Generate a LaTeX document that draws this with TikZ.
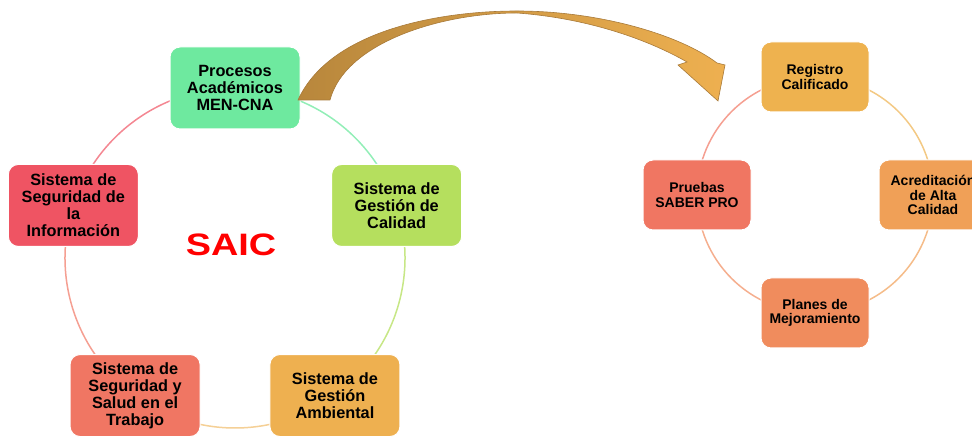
\documentclass[tikz,border=0pt]{standalone}
\usepackage{fontspec}
\setmainfont{Liberation Sans}
\usetikzlibrary{backgrounds}

\definecolor{cProc}{HTML}{6EE99F}
\definecolor{cCal}{HTML}{B5DF5E}
\definecolor{cAmb}{HTML}{EEB050}
\definecolor{cSal}{HTML}{F07663}
\definecolor{cInf}{HTML}{EF5463}
\definecolor{cReg}{HTML}{EEB24F}
\definecolor{cAcr}{HTML}{F0A057}
\definecolor{cPla}{HTML}{F08C5D}
\definecolor{cPru}{HTML}{F07662}
\definecolor{arrDark}{HTML}{B8873C}
\definecolor{arrLight}{HTML}{EEB050}
\definecolor{arrLine}{HTML}{A87A3A}

\tikzset{
  saicbox/.style={draw=white, line width=1pt, rounded corners=10pt,
    minimum width=130pt, minimum height=82pt, align=center, text=black,
    font=\bfseries\fontsize{16.3}{16.9}\selectfont},
  evalbox/.style={saicbox, minimum width=108pt, minimum height=70pt,
    font=\bfseries\fontsize{14}{14.4}\selectfont},
  ring/.style={line width=1.5pt},
}

\begin{document}
\begin{tikzpicture}[x=1pt,y=1pt]
\useasboundingbox (0,0) rectangle (972,438);
% ------ SAIC ---------------------------------
\node[saicbox, fill=cProc] (procesos) at ([shift={(235,180)}]90:170) {Procesos\\Académicos\\MEN-CNA};
\node[saicbox, fill=cCal] (calidad) at ([shift={(235,180)}]18:170) {Sistema de\\Gestión de\\Calidad};
\node[saicbox, fill=cAmb] (ambiental) at ([shift={(235,180)}]-54:170) {Sistema de\\Gestión\\Ambiental};
\node[saicbox, fill=cSal] (salud) at ([shift={(235,180)}]-126:170) {Sistema de\\Seguridad y\\Salud en el\\Trabajo};
\node[saicbox, fill=cInf] (info) at ([shift={(235,180)}]162:170) {Sistema de\\Seguridad de\\la\\Información};
\node[text=red, font=\bfseries\fontsize{31}{31}\selectfont] (saic) at (231,193) {\scalebox{1.22}[1]{SAIC}};
\begin{scope}[on background layer]
  \draw[ring, cProc!75] (procesos.center) arc[start angle=90, end angle=18, radius=170];
  \draw[ring, cCal!75] (calidad.center) arc[start angle=18, end angle=-54, radius=170];
  \draw[ring, cAmb!60] (ambiental.center) arc[start angle=-54, end angle=-126, radius=170];
  \draw[ring, cSal!70] (salud.center) arc[start angle=-126, end angle=-198, radius=170];
  \draw[ring, cInf!70] (info.center) arc[start angle=162, end angle=90, radius=170];
\end{scope}
% ------ Evaluacion ---------------------------
\node[evalbox, fill=cReg] (registro) at ([shift={(815,243)}]90:118) {Registro\\Calificado};
\node[evalbox, fill=cAcr] (acreditacion) at ([shift={(815,243)}]0:118) {Acreditación\\de Alta\\Calidad};
\node[evalbox, fill=cPla] (planes) at ([shift={(815,243)}]-90:118) {Planes de\\Mejoramiento};
\node[evalbox, fill=cPru] (pruebas) at ([shift={(815,243)}]180:118) {Pruebas\\SABER PRO};
\begin{scope}[on background layer]
  \draw[ring, cReg!70] (registro.center) arc[start angle=90, end angle=0, radius=118];
  \draw[ring, cAcr!70] (acreditacion.center) arc[start angle=0, end angle=-90, radius=118];
  \draw[ring, cPla!70] (planes.center) arc[start angle=-90, end angle=-180, radius=118];
  \draw[ring, cPru!70] (pruebas.center) arc[start angle=180, end angle=90, radius=118];
\end{scope}
% ------ la flèche ----------------------------
\path[left color=arrDark, middle color=arrDark!65!arrLight, right color=arrLight,
      draw=arrLine, line width=0.6pt]
  (298,338) .. controls (330,408) and (440,427) .. (517,427)
  .. controls (600,427) and (680,403) .. (717,375)
  -- (725,373) -- (718,337) -- (678,373) -- (687,376)
  .. controls (645,400) and (585,420) .. (517,425)
  .. controls (440,425) and (345,395) .. (330,338) -- cycle;
\end{tikzpicture}
\end{document}
